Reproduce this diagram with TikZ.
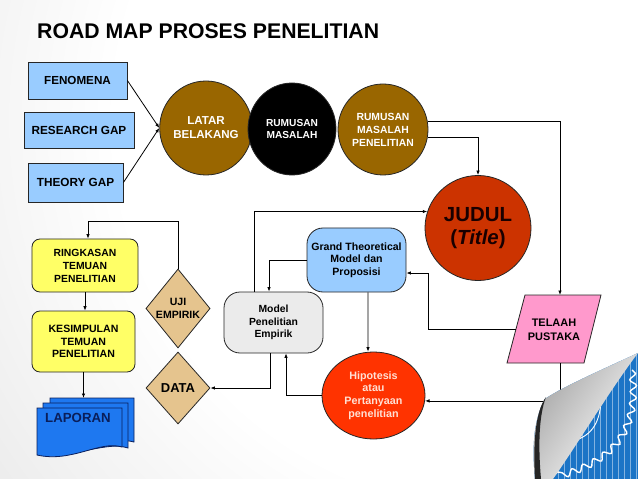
\documentclass[tikz,border=0pt]{standalone}
\usepackage{fontspec}
\setmainfont{Liberation Sans}
\usetikzlibrary{shapes.geometric,arrows.meta,calc,decorations.pathmorphing}
\definecolor{lblue}{HTML}{99CCFF}
\definecolor{brownc}{HTML}{996600}
\definecolor{judulc}{HTML}{CC3300}
\definecolor{hipc}{HTML}{FF3300}
\definecolor{hiptext}{HTML}{FFE0D4}
\definecolor{pinkc}{HTML}{FF99CC}
\definecolor{yelc}{HTML}{FFFF66}
\definecolor{tanc}{HTML}{E5C48E}
\definecolor{grayc}{HTML}{EBEBEB}
\definecolor{lapc}{HTML}{1E78F0}
\definecolor{navyc}{HTML}{0A1E5A}
\definecolor{bggray}{HTML}{B8B8B8}
\definecolor{curlblue}{HTML}{1B74C6}
\pgfdeclareradialshading{slidebg}{\pgfpoint{0bp}{0bp}}{color(0bp)=(white); color(15bp)=(white); color(50bp)=(bggray)}
\newcommand{\fs}[2]{\bfseries\fontsize{#1}{#2}\selectfont}
\begin{document}
\begin{tikzpicture}[x=1bp,y=-1bp,
  line/.style={line width=0.8bp, draw=black},
  arr/.style={line, -{Latex[length=4.5bp,width=3.5bp]}},
  shp/.style={draw=black!85, line width=0.8bp, inner sep=0pt, align=center},
  rbox/.style={shp, rectangle, fill=lblue},
  circ/.style={shp, ellipse},
  ybox/.style={shp, rectangle, rounded corners=8bp, fill=yelc},
  dia/.style={shp, diamond, fill=tanc},
  term/.style={shp, rectangle, rounded corners=16bp},
  doc/.style={fill=lapc, draw=navyc, line width=0.8bp}]
\useasboundingbox (0,0) rectangle (638,479);
\begin{scope}
  \clip (0,0) rectangle (638,479);
  \shade[shading=slidebg] (500,120) circle (640bp);
\end{scope}

\node[anchor=base west, inner sep=0pt, font=\fs{21.3}{24}] (title) at (37,39) {ROAD MAP PROSES PENELITIAN};

% left input boxes
\node[rbox, minimum width=99bp, minimum height=37bp, font=\fs{11.7}{13}] (fen) at (77.5,80.5) {FENOMENA};
\node[rbox, minimum width=110bp, minimum height=36bp, font=\fs{11.8}{13}] (rg) at (79,130) {RESEARCH GAP};
\node[rbox, minimum width=95bp, minimum height=39bp, font=\fs{11.8}{13}] (tg) at (75.5,182.5) {THEORY GAP};

% circles in top row
\node[circ, fill=brownc, text=white, minimum width=82bp, minimum height=94bp, font=\fs{11.6}{14}] (latar) at (206,128) {LATAR\\BELAKANG};
\node[circ, fill=black, text=white, minimum width=88bp, minimum height=92bp, font=\fs{10.2}{13}] (rm) at (292,129) {RUMUSAN\\MASALAH};
\node[circ, fill=brownc, text=white, minimum width=90bp, minimum height=91bp, font=\fs{10.4}{13}] (rmp) at (383,129.5) {RUMUSAN\\MASALAH\\PENELITIAN};
\node[circ, fill=judulc, text=black!90!red, minimum width=106bp, minimum height=105bp, font=\fs{20.5}{23}] (judul) at (478,228) {JUDUL\\(\textit{Title})};

% middle
\node[term, fill=lblue, minimum width=99bp, minimum height=64bp, font=\fs{10.6}{12.5}] (gtm) at (356.5,260) {Grand Theoretical\\Model dan\\Proposisi};
\node[term, fill=grayc, minimum width=99bp, minimum height=61bp, font=\fs{10.4}{12.5}] (mpe) at (273.5,322.5) {Model\\Penelitian\\Empirik};
\node[circ, fill=hipc, text=hiptext, minimum width=103bp, minimum height=87bp, font=\fs{10.8}{12.7}] (hip) at (373.5,395.5) {Hipotesis\\atau\\Pertanyaan\\penelitian};

% telaah pustaka parallelogram
\draw[line, draw=black!85, fill=pinkc] (525,295) -- (601,295) -- (584,363) -- (507,363) -- cycle;
\node[inner sep=0pt, align=center, font=\fs{11}{14}] (telaah) at (554,330) {TELAAH\\PUSTAKA};
\coordinate (tpT) at (560,295);
\coordinate (tpL) at (516,329);
\coordinate (tpB) at (560,363);

% left column
\node[ybox, minimum width=106bp, minimum height=53bp, font=\fs{10.4}{13}] (ring) at (85,265.5) {RINGKASAN\\TEMUAN\\PENELITIAN};
\node[ybox, minimum width=103bp, minimum height=61bp, font=\fs{10.6}{12.5}] (kes) at (83.5,341.5) {KESIMPULAN\\TEMUAN\\PENELITIAN};
\node[dia, minimum width=64bp, minimum height=79bp, font=\fs{10.6}{13}] (uji) at (178,308.5) {UJI\\EMPIRIK};
\node[dia, minimum width=64bp, minimum height=72bp, font=\fs{13}{15}] (data) at (178,388) {DATA};

% laporan (multiple documents)
\draw[doc] (50,398) -- (134,398) -- (134,442) .. controls (112,436) and (90,452) .. (50,446) -- cycle;
\draw[doc] (43,403) -- (128,403) -- (128,448) .. controls (106,441) and (84,457) .. (43,451) -- cycle;
\draw[doc] (37,408) -- (122,408) -- (122,447) .. controls (100,440) and (72,463) .. (37,455) -- cycle;
\node[inner sep=0pt, text=navyc, font=\fs{13.3}{15}] (lap) at (78,418) {LAPORAN};
\coordinate (lapT) at (86,398);

% connectors
\draw[arr] (fen.east) -- (latar.west);
\draw[arr] (tg.east) -- (latar.west);
\draw[arr] (rmp.10) -| (tpT);
\draw[arr] (rmp.-10) -| (judul.north);
\draw[arr] ($(mpe.north)+(-19.5,0)$) |- (judul.162);
\draw[arr] (gtm.west) -| ($(mpe.north)+(-4.5,0)$);
\draw[arr] ($(gtm.south)+(11.5,0)$) -- ($(hip.north)+(-5.5,0)$);
\coordinate (k1) at (428,329);
\draw[arr] (tpL) -- (k1) |- ($(gtm.east)+(0,13)$);
\draw[arr] (tpB) |- (hip.-6);
\draw[arr] (hip.west) -| ($(mpe.south)+(12.5,0)$);
\draw[arr] ($(mpe.south)+(-3.5,0)$) |- (data.east);
\coordinate (k2) at (88,221);
\draw[arr] (uji.north) |- (k2) -- (k2 |- ring.north);
\draw[arr] (ring.south) -- (ring.south |- kes.north);
\draw[arr] (kes.south) -- (kes.south |- lapT);

% page curl decoration
\begin{scope}
  \clip (638,353) .. controls (610,366) and (560,388) .. (545,399)
    .. controls (533,420) and (532,450) .. (535,479) -- (638,479) -- cycle;
  \fill[curlblue] (530,340) rectangle (640,480);
  \draw[curlblue!55!white, line width=0.45bp, step=6] (530,340) grid (640,480);
  \draw[white, line width=1.4bp, decorate, decoration={snake, amplitude=3.2bp, segment length=12bp}]
    (632,370) .. controls (640,440) and (600,462) .. (553,475);
  \draw[white, line width=0.9bp] (601,400) .. controls (600,425) and (590,437) .. (570,442);
\end{scope}
\shade[shading=axis, top color=gray!70, bottom color=white, shading angle=55]
  (638,353) .. controls (610,366) and (560,388) .. (545,399)
  .. controls (533,420) and (532,450) .. (535,479) -- (553,479)
  .. controls (575,448) and (610,390) .. (638,353) -- cycle;
\fill[black!85] (546,397) .. controls (535,412) and (533,445) .. (535,479) -- (541,479)
  .. controls (538,445) and (539,415) .. (546,397) -- cycle;
\end{tikzpicture}
\end{document}
